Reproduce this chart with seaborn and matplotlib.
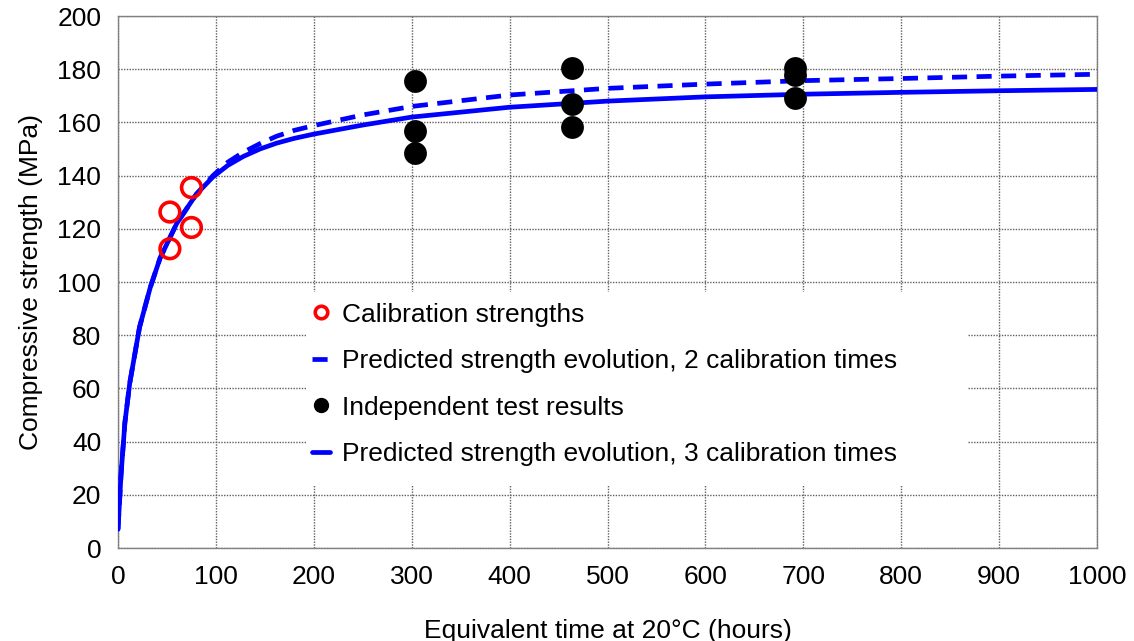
import matplotlib
matplotlib.use("Agg")
import matplotlib.pyplot as plt
from matplotlib.patches import Rectangle
from matplotlib.lines import Line2D
import seaborn as sns
import pandas as pd

# ---- data ----
calib_t = [53, 53, 75, 75]
calib_s = [126.3, 112.5, 135.5, 120.5]

indep_t = [303, 303, 303, 464, 464, 464, 692, 692, 692]
indep_s = [175.5, 156.8, 148.5, 180.3, 167.0, 158.3, 180.5, 178.0, 169.3]

pred3_t = [0, 3, 7, 12, 22, 33, 43, 60, 80, 97, 112, 128, 145, 162, 180, 200, 250, 300, 400, 500, 600, 700, 800, 900, 1000]
pred3_s = [7, 27, 47, 62, 83, 98, 109, 122, 133, 139.5, 143.8, 147.2, 150.0, 152.2, 154.0, 155.6, 159, 162, 165.7, 168, 169.6, 170.6, 171.3, 171.9, 172.4]

pred2_t = [0, 3, 7, 12, 22, 33, 43, 60, 80, 97, 112, 128, 145, 162, 180, 200, 250, 300, 400, 500, 600, 700, 800, 900, 1000]
pred2_s = [7, 27, 47, 62, 83, 98, 109, 122, 133, 140, 145, 148.8, 152.0, 154.8, 157.0, 158.8, 162.8, 166.0, 170.3, 172.8, 174.4, 175.7, 176.5, 177.4, 178.1]

x_ticks = [0, 100, 200, 300, 400, 500, 600, 700, 800, 900, 1000]
y_ticks = [0, 20, 40, 60, 80, 100, 120, 140, 160, 180, 200]

labels = ["Calibration strengths",
          "Predicted strength evolution, 2 calibration times",
          "Independent test results",
          "Predicted strength evolution, 3 calibration times"]
x_label = "Equivalent time at 20°C (hours)"
y_label = "Compressive strength (MPa)"

# ---- styling ----
sns.set_style("white")
plt.rcParams["font.family"] = ["Liberation Sans", "DejaVu Sans"]
plt.rcParams["text.color"] = "black"
plt.rcParams["axes.labelcolor"] = "black"
plt.rcParams["xtick.color"] = "black"
plt.rcParams["ytick.color"] = "black"

fig = plt.figure(figsize=(11.34, 6.41), dpi=100)
ax = fig.add_axes([118 / 1134, 1 - 548 / 641, (1097 - 118) / 1134, (548 - 16) / 641])

blue = "#0000FF"
df2 = pd.DataFrame({"t": pred2_t, "s": pred2_s})
df3 = pd.DataFrame({"t": pred3_t, "s": pred3_s})
dfc = pd.DataFrame({"t": calib_t, "s": calib_s})
dfi = pd.DataFrame({"t": indep_t, "s": indep_s})

lw = 3.4
sns.lineplot(data=df3, x="t", y="s", ax=ax, color=blue, lw=lw, zorder=4)
sns.lineplot(data=df2, x="t", y="s", ax=ax, color=blue, lw=lw, zorder=4)
ax.lines[-1].set_dashes((3.2, 2.0))
sns.scatterplot(data=dfc, x="t", y="s", ax=ax, marker="o", s=200,
                facecolors="none", edgecolor="#FF0000", linewidth=2.6, zorder=5)
sns.scatterplot(data=dfi, x="t", y="s", ax=ax, marker="o", s=270,
                color="black", edgecolor="black", linewidth=0, zorder=5)

ax.set_xlim(0, 1000)
ax.set_ylim(0, 200)
ax.set_xticks(x_ticks)
ax.set_yticks(y_ticks)
ax.tick_params(axis="both", labelsize=19, length=0, pad=12, colors="black")
ax.set_xlabel(x_label, fontsize=19, labelpad=22, color="black")
ax.set_ylabel(y_label, fontsize=19, labelpad=10, color="black")

ax.grid(True, color="#606060", linestyle=(0, (1, 1)), linewidth=1.0, zorder=0)
ax.set_axisbelow(True)
for sp in ax.spines.values():
    sp.set_color("#808080")
    sp.set_linestyle((0, (1, 1)))
    sp.set_linewidth(1.0)

# white legend area
ax.add_patch(Rectangle((0.192, 0.118), 0.676, 0.363, transform=ax.transAxes,
                       facecolor="white", edgecolor="none", zorder=2))

handles = [
    Line2D([], [], marker="o", ls="none", markersize=9, markerfacecolor="none",
           markeredgecolor="#FF0000", markeredgewidth=2.6),
    Line2D([], [], color=blue, lw=lw, dashes=(3.2, 2.0)),
    Line2D([], [], marker="o", ls="none", markersize=10, color="black"),
    Line2D([], [], color=blue, lw=lw),
]
leg = ax.legend(handles, labels, loc="upper left", bbox_to_anchor=(0.190, 0.476),
                frameon=False, fontsize=19, handlelength=0.7, handletextpad=0.45,
                labelspacing=0.85, borderpad=0.3, borderaxespad=0)
leg.set_zorder(6)
for t in leg.get_texts():
    t.set_color("black")

fig.savefig("out.png", dpi=100)
